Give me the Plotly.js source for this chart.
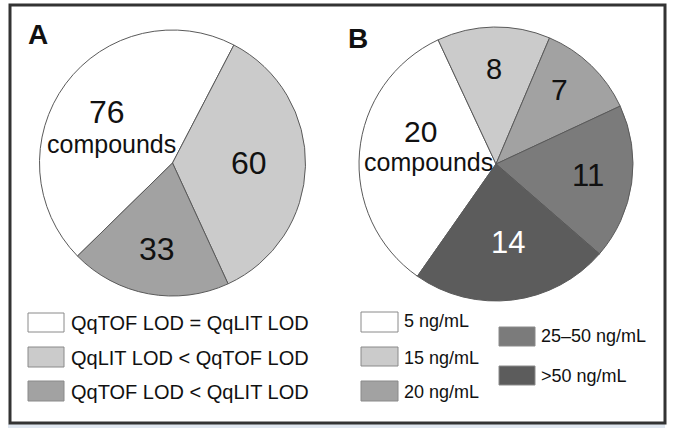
<!DOCTYPE html>
<html><head><meta charset="utf-8">
<script src="https://cdn.plot.ly/plotly-3.0.1.min.js"></script>
<style>html,body{margin:0;padding:0;background:#fff}#chart{width:678px;height:428px}</style>
</head><body><div id="chart"></div>
<script>
// ---- data ----
const panelA = 'A';
const labelsA = ['QqTOF LOD = QqLIT LOD', 'QqLIT LOD < QqTOF LOD', 'QqTOF LOD < QqLIT LOD'];
const valuesA = [76, 60, 33];
const colorsA = ['#ffffff', '#cbcbcb', '#a2a2a2'];

const panelB = 'B';
const labelsB = ['5 ng/mL', '15 ng/mL', '20 ng/mL', '25–50 ng/mL', '>50 ng/mL'];
const valuesB = [20, 8, 7, 11, 14];
const colorsB = ['#ffffff', '#cbcbcb', '#a2a2a2', '#7b7b7b', '#5c5c5c'];
const unitWord = 'compounds';

// ---- layout helpers (pixel -> paper) ----
const W = 678, H = 428;
const px = x => x / W;
const py = y => 1 - y / H;
const FONT = 'Liberation Sans, Arial, Helvetica, sans-serif';

const line = {color: '#5a5a5a', width: 1};

const traces = [
  {
    type: 'pie', labels: labelsA, values: valuesA, sort: false,
    direction: 'clockwise', rotation: 225.6,
    marker: {colors: colorsA, line: line},
    textinfo: 'none', hoverinfo: 'label+value', showlegend: false,
    domain: {x: [px(39.5), px(305.5)], y: [py(296), py(30)]}
  },
  {
    type: 'pie', labels: labelsB, values: valuesB, sort: false,
    direction: 'clockwise', rotation: 215,
    marker: {colors: colorsB, line: line},
    textinfo: 'none', hoverinfo: 'label+value', showlegend: false,
    domain: {x: [px(359), px(633)], y: [py(301), py(27)]}
  }
];

const ann = [];
function txt(s, x, y, size, opts) {
  ann.push(Object.assign({
    text: s, x: px(x), y: py(y), xref: 'paper', yref: 'paper',
    showarrow: false, xanchor: 'center', yanchor: 'middle', borderpad: 0,
    font: {family: FONT, size: size, color: '#111'}
  }, opts || {}));
}

// panel letters
txt('<b>' + panelA + '</b>', 38, 35, 28);
txt('<b>' + panelB + '</b>', 358, 39, 28);

// slice labels, pie A
const posA = [[107, 112], [249, 163], [157, 249]];
valuesA.forEach((v, i) => txt(String(v), posA[i][0], posA[i][1], 32));
txt(unitWord, 111, 144, 25);

// slice labels, pie B
const posB = [[420, 131], [494, 69], [559, 90], [588, 175], [508, 242]];
const sizeB = [30, 29, 30, 31, 31];
const txtColB = ['#111', '#111', '#111', '#111', '#ffffff'];
valuesB.forEach((v, i) => txt(String(v), posB[i][0], posB[i][1], sizeB[i], {font: {family: FONT, size: sizeB[i], color: txtColB[i]}}));
txt(unitWord, 428, 162, 25);

// legend (swatches + text)
const shapes = [];
function swatch(x0, y0, x1, y1, color) {
  shapes.push({type: 'rect', xref: 'paper', yref: 'paper',
    x0: px(x0), x1: px(x1), y0: py(y0), y1: py(y1),
    fillcolor: color, line: {color: '#8a8a8a', width: 1}});
}
const rowsA = [[313, 332], [347, 367], [381, 401]];
labelsA.forEach((l, i) => {
  swatch(28, rowsA[i][0], 64, rowsA[i][1], colorsA[i]);
  txt(l, 70, (rowsA[i][0] + rowsA[i][1]) / 2 + 0.5, 20, {xanchor: 'left'});
});
const rowsB = [[312, 332], [347, 366], [381, 401], [327, 346], [366, 385]];
const colXB = [[361, 398], [361, 398], [361, 398], [499, 535], [499, 535]];
const txtYB = [321, 358, 392, 336, 376];
labelsB.forEach((l, i) => {
  swatch(colXB[i][0], rowsB[i][0], colXB[i][1], rowsB[i][1], colorsB[i]);
  txt(l, colXB[i][1] + 5, txtYB[i], 18, {xanchor: 'left'});
});

// frame and bottom band
shapes.push({type: 'rect', xref: 'paper', yref: 'paper', layer: 'below',
  x0: px(8), x1: px(665), y0: py(428), y1: py(424), fillcolor: '#dfe6ef', line: {width: 0}});
shapes.push({type: 'rect', xref: 'paper', yref: 'paper',
  x0: px(10), x1: px(665), y0: py(423), y1: py(5), line: {color: '#333333', width: 3}});

const layout = {
  width: W, height: H, margin: {l: 0, r: 0, t: 0, b: 0},
  paper_bgcolor: '#ffffff', plot_bgcolor: '#ffffff',
  showlegend: false, annotations: ann, shapes: shapes,
  font: {family: FONT}
};
Plotly.newPlot('chart', traces, layout, {displayModeBar: false, staticPlot: true});
</script>
</body></html>
